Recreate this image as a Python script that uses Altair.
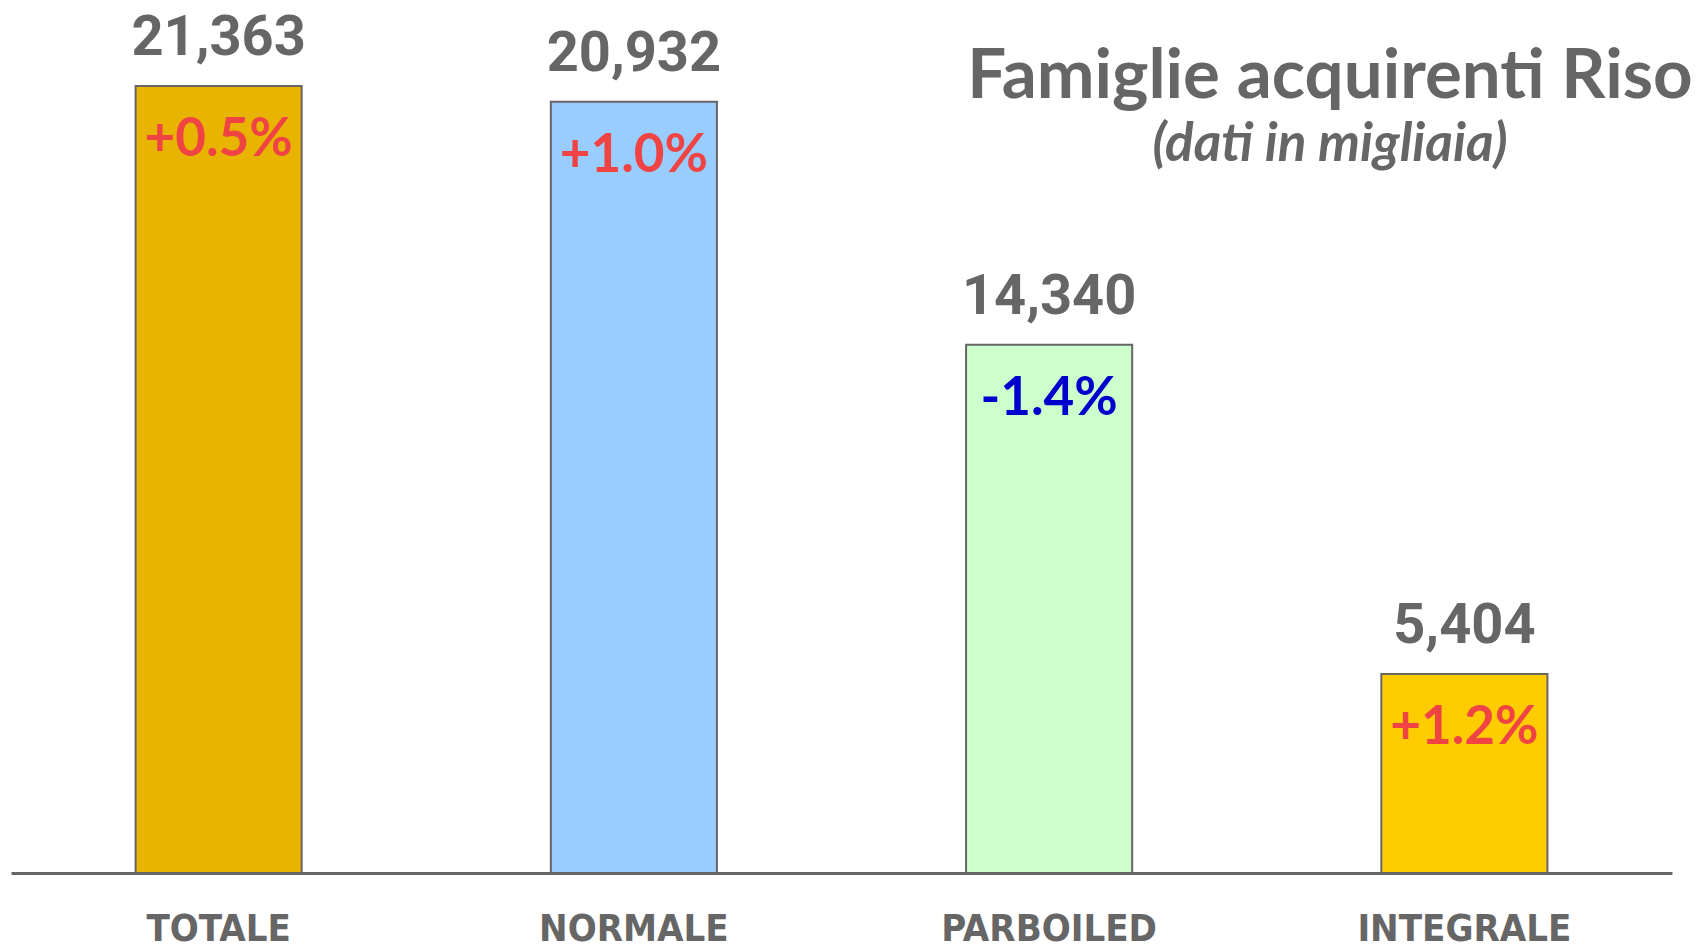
import altair as alt
import pandas as pd

categories = ["TOTALE", "NORMALE", "PARBOILED", "INTEGRALE"]
values = [21363, 20932, 14340, 5404]
changes = ["+0.5%", "+1.0%", "-1.4%", "+1.2%"]
bar_colors = ["#E8B400", "#99CCFF", "#CCFFCC", "#FFCC00"]
change_colors = ["#F04444", "#F04444", "#0000CC", "#F04444"]

df = pd.DataFrame({
    "cat": categories,
    "val": values,
    "chg": changes,
    "fill": bar_colors,
    "chgcol": change_colors,
})

x = alt.X("cat:N", sort=categories,
          scale=alt.Scale(paddingInner=0.6, paddingOuter=0.3),
          axis=alt.Axis(title=None, ticks=False, grid=False, labelAngle=0,
                        domainColor="#666666", domainWidth=3, labelLimit=0,
                        labelFont="DejaVu Sans Condensed", labelFontWeight="bold",
                        labelFontSize=38, labelColor="#666666", labelPadding=37))
y = alt.Y("val:Q", scale=alt.Scale(domain=[0, 23480], nice=False, zero=True), axis=None)

base = alt.Chart(df).encode(x=x, y=y)

bars = base.mark_bar(stroke="#666666", strokeWidth=2).encode(
    fill=alt.Fill("fill:N", scale=None)
)

val_text = base.mark_text(
    font="Roboto", fontWeight="bold", fontSize=56, color="#666666",
    baseline="middle", dy=-48
).encode(text=alt.Text("val:Q", format=","))

chg_text = base.mark_text(
    font="Lato", fontWeight="bold", fontSize=53,
    baseline="middle", dy=54
).encode(text="chg:N", color=alt.Color("chgcol:N", scale=None))

title_df = pd.DataFrame({"t": ["Famiglie acquirenti Riso"]})
sub_df = pd.DataFrame({"t": ["(dati in migliaia)"]})

title = alt.Chart(title_df).mark_text(
    font="Lato", fontWeight="bold", fontSize=69, color="#666666",
    align="center", baseline="middle"
).encode(text="t:N", x=alt.value(1319), y=alt.value(69))

sub = alt.Chart(sub_df).mark_text(
    font="Lato", fontWeight="bold", fontStyle="italic", fontSize=53, color="#666666",
    align="center", baseline="middle"
).encode(text="t:N", x=alt.value(1319), y=alt.value(137))

chart = alt.layer(bars, val_text, chg_text, title, sub).properties(
    width=1661, height=865,
    padding={"left": 3, "top": 0, "right": 22, "bottom": 76},
    autosize=alt.AutoSizeParams(type="none"),
    background="white",
).configure_view(stroke=None)

chart.save("out.html", embed_options={"renderer": "svg", "actions": False})
